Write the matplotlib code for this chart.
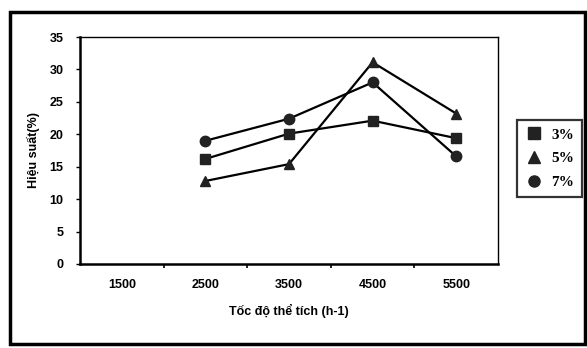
import matplotlib.pyplot as plt
import matplotlib.patches as mpatches
from matplotlib.lines import Line2D

# Hiệu suất theo tốc độ thể tích ở ba nồng độ
categories = ["1500", "2500", "3500", "4500", "5500"]
x_idx = [1, 2, 3, 4]  # không có số liệu ở 1500
hs_3 = [16.2, 20.1, 22.1, 19.4]
hs_5 = [12.8, 15.4, 31.1, 23.2]
hs_7 = [19.0, 22.4, 28.0, 16.6]
series_names = ["3%", "5%", "7%"]

plt.rcParams['font.family'] = ['Liberation Sans', 'DejaVu Sans']

fig = plt.figure(figsize=(5.87, 3.48), dpi=100)
ax = fig.add_axes([80 / 587, 1 - 264 / 348, 418 / 587, 227 / 348])

markers = ["s", "^", "o"]
for vals, m in zip([hs_3, hs_5, hs_7], markers):
    ax.plot(x_idx, vals, color="black", lw=1.6, marker=m, markersize=7.5,
            markerfacecolor="#222222", markeredgecolor="#222222")

ax.set_xlim(-0.5, 4.5)
ax.set_ylim(0, 35)
ax.set_yticks(range(0, 36, 5))
ax.set_xticks(range(len(categories)))
ax.set_xticklabels(categories)
ax.set_xticks([0.5, 1.5, 2.5, 3.5], minor=True)
ax.tick_params(axis="x", which="major", length=0, pad=11, labelsize=9)
ax.tick_params(axis="x", which="minor", length=3, width=1.2, direction="out")
ax.tick_params(axis="y", length=3, width=1, direction="out", labelsize=9, pad=9)
for lab in ax.get_xticklabels() + ax.get_yticklabels():
    lab.set_fontweight("bold")

for side in ["left", "bottom"]:
    ax.spines[side].set_linewidth(1.8)
for side in ["top", "right"]:
    ax.spines[side].set_linewidth(1.0)

ax.set_ylabel("Hiệu suất(%)", fontsize=9, fontweight="bold", labelpad=7)
ax.set_xlabel("Tốc độ thể tích (h-1)", fontsize=9, fontweight="bold", labelpad=9)

# chú thích
handles = [Line2D([], [], color="#222222", marker=m, linestyle="none", markersize=8)
           for m in markers]
leg = fig.legend(handles, series_names, loc="upper left",
                 bbox_to_anchor=(509 / 587, 1 - 112 / 348), frameon=True,
                 fancybox=False, edgecolor="black", handletextpad=0.5,
                 borderpad=0.55, labelspacing=0.65, handlelength=1.2,
                 prop={"family": "Liberation Serif", "weight": "bold", "size": 11})
leg.get_frame().set_linewidth(1.6)

# khung ngoài của biểu đồ
border = mpatches.Rectangle((10 / 587, 1 - 344 / 348), 575 / 587, 332 / 348,
                            transform=fig.transFigure, fill=False,
                            edgecolor="black", linewidth=2.5)
fig.patches.append(border)

fig.savefig("out.png", dpi=100)
